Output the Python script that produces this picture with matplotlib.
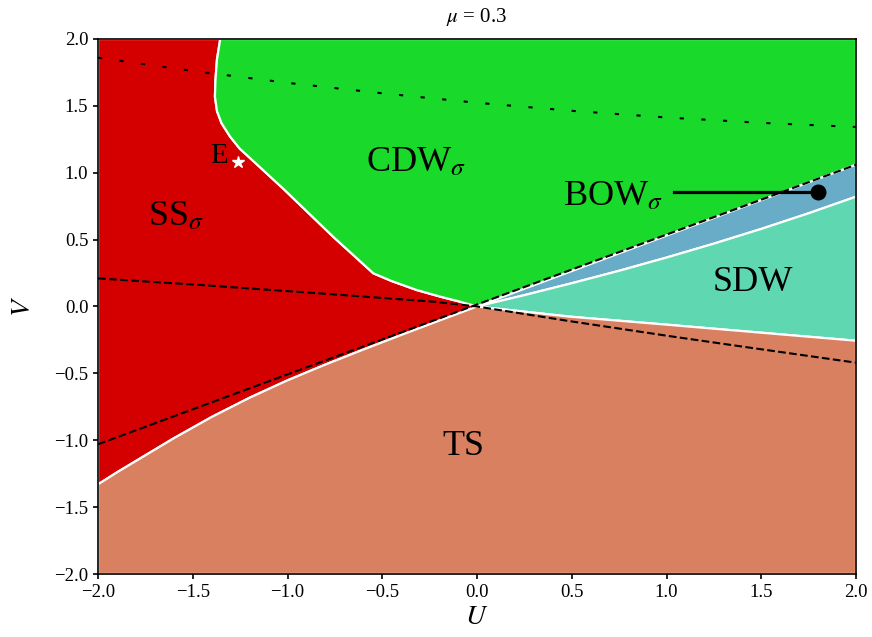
import matplotlib
matplotlib.use("Agg")
import matplotlib.pyplot as plt
import numpy as np

plt.rcParams['font.family'] = ['Liberation Serif', 'DejaVu Serif']
plt.rcParams['mathtext.fontset'] = 'stix'
plt.rcParams['axes.unicode_minus'] = True

# ---- data ----
mu = 0.3
# SS / CDW boundary (top to origin)
ss_cdw_U = [-1.355, -1.372, -1.380, -1.383, -1.372, -1.348, -1.303, -1.252, -1.198, -1.022, -0.758, -0.547, -0.45, -0.318, -0.190, -0.090, 0.0]
ss_cdw_V = [2.0, 1.85, 1.70, 1.569, 1.46, 1.37, 1.27, 1.180, 1.110, 0.880, 0.520, 0.248, 0.190, 0.123, 0.072, 0.036, 0.0]
# SS / TS boundary (left edge to origin)
ss_ts_U = [-2.0, -1.9, -1.8, -1.6, -1.4, -1.2, -1.0, -0.8, -0.6, -0.4, -0.2, 0.0]
ss_ts_V = [-1.33, -1.24, -1.155, -0.985, -0.826, -0.682, -0.552, -0.434, -0.322, -0.213, -0.106, 0.0]
# CDW / BOW boundary (origin to right edge)
cdw_bow_U = [0.0, 2.0]
cdw_bow_V = [0.0, 1.06]
# BOW / SDW boundary
bow_sdw_U = [0.0, 0.25, 0.5, 0.75, 1.0, 1.25, 1.5, 1.75, 2.0]
bow_sdw_V = [0.0, 0.085, 0.174, 0.267, 0.366, 0.470, 0.580, 0.697, 0.821]
# SDW / TS boundary
sdw_ts_U = [0.0, 0.491, 1.018, 1.5, 2.0]
sdw_ts_V = [0.0, -0.076, -0.138, -0.196, -0.256]

# dashed / dotted reference lines
dashA_U = [-2.0, -1.462, -0.8, -0.231, 0.0, 0.491, 1.018, 1.5, 2.0]
dashA_V = [0.21, 0.161, 0.095, 0.036, 0.0, -0.110, -0.222, -0.32, -0.42]
dashB_U = [-2.0, 2.0]
dashB_V = [-1.03, 1.06]
dot_U = [-2.0, -1.5, -1.0, -0.5, 0.0, 0.5, 1.0, 1.5, 2.0]
dot_V = [1.86, 1.761, 1.672, 1.594, 1.523, 1.463, 1.413, 1.373, 1.342]

star_E = (-1.26, 1.083)
bow_point = (1.80, 0.857)
bow_line_start = 1.04

colors = {'SS': '#d40000', 'CDW': '#19d92b', 'BOW': '#68acc7',
          'SDW': '#5fd8b1', 'TS': '#d98060'}

fig = plt.figure(figsize=(8.72, 6.37), dpi=100)
ax = fig.add_axes([0.1124, 0.0989, 0.9817 - 0.1124, 0.9388 - 0.0989])

def poly(us, vs, c):
    ax.fill(us, vs, facecolor=c, edgecolor='white', linewidth=1.6, zorder=1)

# SS region
U = [-2.0] + ss_cdw_U + ss_ts_U[::-1][1:]
V = [2.0] + ss_cdw_V + ss_ts_V[::-1][1:]
poly(U, V, colors['SS'])
# CDW region
U = [2.0] + cdw_bow_U[::-1] + ss_cdw_U[::-1][1:]
V = [2.0] + cdw_bow_V[::-1] + ss_cdw_V[::-1][1:]
poly(U, V, colors['CDW'])
# BOW region
U = cdw_bow_U + bow_sdw_U[::-1][:-1]
V = cdw_bow_V + bow_sdw_V[::-1][:-1]
poly(U, V, colors['BOW'])
# SDW region
U = bow_sdw_U + sdw_ts_U[::-1][:-1]
V = bow_sdw_V + sdw_ts_V[::-1][:-1]
poly(U, V, colors['SDW'])
# TS region
U = [-2.0] + ss_ts_U + sdw_ts_U[1:] + [2.0]
V = [-2.0] + ss_ts_V + sdw_ts_V[1:] + [-2.0]
poly(U, V, colors['TS'])

ax.plot(dashA_U, dashA_V, color='black', ls='--', lw=1.5, zorder=3)
ax.plot(dashB_U, dashB_V, color='black', ls='--', lw=1.5, zorder=3)
ax.plot(dot_U, dot_V, color='black', ls=(0, (2, 8.4)), lw=1.5, zorder=3)

ax.plot([star_E[0]], [star_E[1]], marker='*', color='white', ms=9, ls='none', zorder=4)
ax.plot([bow_line_start, bow_point[0]], [bow_point[1], bow_point[1]], color='black', lw=2.3, zorder=4)
ax.plot([bow_point[0]], [bow_point[1]], marker='o', color='black', ms=10.5, ls='none', zorder=5)

fs = 26
ax.text(-1.735, 0.609, r'SS$_\sigma$', fontsize=fs, ha='left', va='baseline', zorder=6)
ax.text(-0.587, 1.015, r'CDW$_\sigma$', fontsize=fs, ha='left', va='baseline', zorder=6)
ax.text(0.452, 0.759, r'BOW$_\sigma$', fontsize=fs, ha='left', va='baseline', zorder=6)
ax.text(1.244, 0.118, 'SDW', fontsize=fs, ha='left', va='baseline', zorder=6)
ax.text(-0.181, -1.110, 'TS', fontsize=fs, ha='left', va='baseline', zorder=6)
ax.text(-1.409, 1.07, 'E', fontsize=21, ha='left', va='baseline', zorder=6)

ax.set_xlim(-2, 2)
ax.set_ylim(-2, 2)
ticks = [-2.0, -1.5, -1.0, -0.5, 0.0, 0.5, 1.0, 1.5, 2.0]
fmt = matplotlib.ticker.FuncFormatter(lambda v, p: ('%.1f' % v).replace('-', '\u2212'))
ax.set_xticks(ticks)
ax.set_yticks(ticks)
ax.xaxis.set_major_formatter(fmt)
ax.yaxis.set_major_formatter(fmt)
ax.tick_params(labelsize=13.5, direction='out', width=1.2)
ax.set_xlabel(r'$U$', fontsize=20, labelpad=3)
ax.set_ylabel(r'$V$', fontsize=20, labelpad=13)
ax.set_title(r'$\mu$ = %.1f' % mu, fontsize=15, pad=12)
for s in ax.spines.values():
    s.set_linewidth(1.2)
    s.set_zorder(10)

fig.savefig('out.png', dpi=100)
